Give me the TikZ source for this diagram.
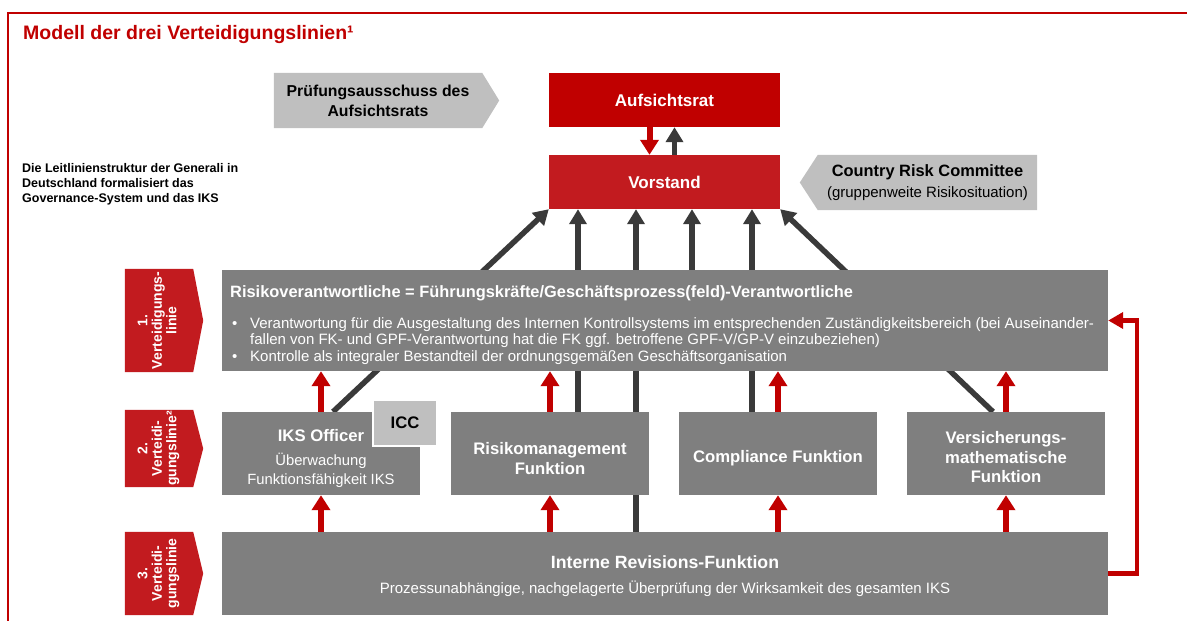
\documentclass[tikz,border=0pt]{standalone}
\usepackage{fontspec}
\setmainfont{Liberation Sans}
\usepackage{tikz}
\usetikzlibrary{arrows.meta}
\usetikzlibrary{positioning}
\usetikzlibrary{calc}
\usetikzlibrary{backgrounds}
\definecolor{mred}{RGB}{192,0,0}
\definecolor{mdarkred}{RGB}{194,27,31}
\definecolor{mgrey}{RGB}{127,127,127}
\definecolor{mlight}{RGB}{191,191,191}
\definecolor{mdark}{RGB}{58,58,58}
\newcommand{\rvbullet}{\makebox[20pt][l]{\hspace{2pt}\textbullet}}
\newcommand{\thin}{\mdseries\fontsize{14.8}{18}\selectfont}
\newcommand{\labtext}[1]{\rotatebox{90}{\fontsize{14}{14.5}\selectfont\bfseries\begin{tabular}{@{}c@{}}#1\end{tabular}}}
\tikzset{redbox/.style = {fill=mred, text=white, inner sep=0,
                          minimum width=231pt, minimum height=54pt,
                          font=\fontsize{17}{20}\selectfont\bfseries},
         tagbox/.style = {inner sep=0, align=center,
                          font=\fontsize{15.8}{20}\selectfont\bfseries},
         box/.style = {fill=mgrey, text=white, inner sep=0, align=center,
                       minimum width=198pt, minimum height=83pt,
                       font=\fontsize{16.7}{19.5}\selectfont\bfseries},
         boxtext/.style = {text=white, inner sep=0, align=center,
                           font=\fontsize{16.7}{19.5}\selectfont\bfseries},
         lab/.style = {text=white, inner sep=0, minimum width=68pt},
         rarr/.style = {draw=mred, line width=6pt, -{Triangle[width=18pt,length=15pt]}},
         darr/.style = {draw=mdark, line width=5.5pt, -{Triangle[width=17pt,length=15pt]}}}

\begin{document}
\begin{tikzpicture}[x=1pt, y=-1pt]
    \useasboundingbox (0,0) rectangle (1187,621);
    \draw [mred, line width=1.2pt] (1187,13) -- (8,13) -- (8,621);
    \node [anchor=base west, inner sep=0, text=mred, font=\fontsize{19.5}{22}\selectfont\bfseries]
        (title) at (23,39) {Modell der drei Verteidigungslinien¹};
    \node [anchor=north west, inner sep=0, align=left, font=\fontsize{12.5}{15}\selectfont\bfseries]
        (intro) at (22,163) {Die Leitlinienstruktur der Generali in\\Deutschland formalisiert das\\Governance-System und das IKS};

    \node [redbox] (auf) at (664.5,100) {Aufsichtsrat};
    \node [redbox, fill=mdarkred] (vor) at (664.5,182) {Vorstand};
    \node [tagbox, minimum width=208pt, minimum height=55pt] (pruef) at (378,100.5) {Prüfungsausschuss des\\Aufsichtsrats};
    \node [tagbox, minimum width=219pt, minimum height=55pt, font=\fontsize{16.4}{20.5}\selectfont\bfseries] (crc) at (927.5,182.5)
        {Country Risk Committee\\\mdseries\fontsize{15}{17}\selectfont (gruppenweite Risikosituation)};

    \node [box, minimum width=886pt, minimum height=101pt] (rv) at (665,320.5) {};
    \node [anchor=base west, inner sep=0, text=white, font=\fontsize{16.4}{17}\selectfont\bfseries]
        (rvtitle) at (230,297) {Risikoverantwortliche = Führungskräfte/Geschäftsprozess(feld)-Verantwortliche};
    \node [anchor=north west, inner sep=0, text=white, align=left, font=\fontsize{15}{16.6}\selectfont]
        (rvlist) at (230,317) {\rvbullet Verantwortung für die Ausgestaltung des Internen Kontrollsystems im entsprechenden Zuständigkeitsbereich (bei Auseinander-\\
        \hspace*{20pt}fallen von FK- und GPF-Verantwortung hat die FK ggf. betroffene GPF-V/GP-V einzubeziehen)\\
        \rvbullet Kontrolle als integraler Bestandteil der ordnungsgemäßen Geschäftsorganisation};

    \foreach \n/\x in {iks/321, risk/550, comp/778, vers/1006}
        \node [box] (\n) at (\x,453.5) {};
    \node [boxtext] (ikstext) at ([shift={(0,5)}]iks.center) {IKS Officer\\[4pt]\thin Überwachung\\\thin Funktionsfähigkeit IKS};
    \node [box, fill=mlight, draw=white, line width=1.5pt, text=black, minimum width=64pt, minimum height=46pt]
        (icc) at (405,423) {ICC};
    \node [boxtext] (risktext) at ([shift={(0,5)}]risk.center) {Risikomanagement\\Funktion};
    \node [boxtext] (comptext) at ([shift={(0,5)}]comp.center) {Compliance Funktion};
    \node [boxtext] (verstext) at ([shift={(0,4)}]vers.center) {Versicherungs-\\mathematische\\Funktion};

    \node [box, minimum width=886pt, minimum height=83pt] (rev) at (665,573.5) {};
    \node [boxtext, font=\fontsize{17.7}{24.5}\selectfont\bfseries] (revtext) at ([shift={(0,2.5)}]rev.center)
        {Interne Revisions-Funktion\\\mdseries\fontsize{15}{16}\selectfont Prozessunabhängige, nachgelagerte Überprüfung der Wirksamkeit des gesamten IKS};

    \node [lab, minimum height=103pt] (lab1) at (159,320.5) {\labtext{1.\\Verteidigungs-\\linie}};
    \node [lab, minimum height=77pt] (lab2) at (159,448.5) {\labtext{2.\\Verteidi-\\gungslinie²}};
    \node [lab, minimum height=83pt] (lab3) at (159,573.5) {\labtext{3.\\Verteidi-\\gungslinie}};

    \begin{scope}[on background layer]
        \foreach \l in {lab1, lab2, lab3}
            \fill [mdarkred] (\l.north west) -- (\l.north east) -- ($(\l.east)+(10,0)$) -- (\l.south east) -- (\l.south west) -- cycle;
        \fill [mlight] (pruef.north west) -- (pruef.north east) -- ($(pruef.east)+(17,0)$) -- (pruef.south east) -- (pruef.south west) -- cycle;
        \fill [mlight] (crc.north west) -- (crc.north east) -- (crc.south east) -- (crc.south west) -- ($(crc.west)+(-18,0)$) -- cycle;

        \draw [darr] ([shift={(12,0)}]iks.north) -- (vor.south west);
        \draw [darr] ([shift={(28,0)}]risk.north) -- ([shift={(28,0)}]risk.north |- vor.south);
        \draw [darr] ([shift={(-29,0)}]rev.north) -- ([shift={(-29,0)}]rev.north |- vor.south);
        \draw [darr] ([shift={(27,0)}]rv.north) -- ([shift={(27,0)}]rv.north |- vor.south);
        \draw [darr] ([shift={(-26,0)}]comp.north) -- ([shift={(-26,0)}]comp.north |- vor.south);
        \draw [darr] ([shift={(-13,0)}]vers.north) -- (vor.south east);
    \end{scope}

    \draw [rarr] ([shift={(-15,0)}]auf.south) -- ([shift={(-15,0)}]vor.north);
    \draw [darr] ([shift={(10,0)}]vor.north) -- ([shift={(10,0)}]auf.south);

    \foreach \b in {iks, risk, comp, vers} {
        \draw [rarr] (\b.north) -- (\b.north |- rv.south);
        \draw [rarr] (\b.south |- rev.north) -- (\b.south);
    }

    \draw [rarr, line width=4.5pt, -{Triangle[width=16pt,length=15pt]}] (rev.east) -- ++(29,0) |- (rv.east);
\end{tikzpicture}
\end{document}
